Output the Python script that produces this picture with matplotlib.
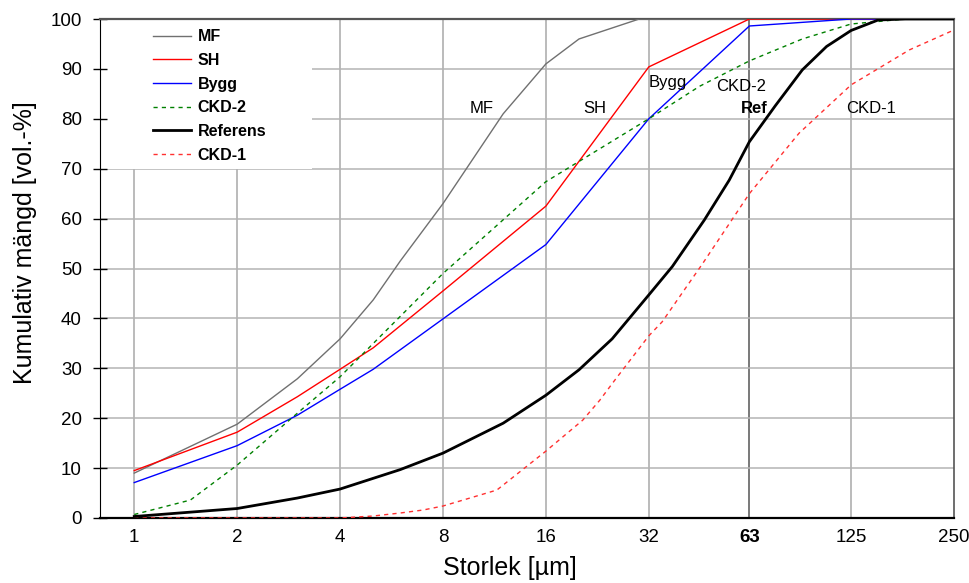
import numpy as np
import matplotlib
matplotlib.use('Agg')
import matplotlib.pyplot as plt
from matplotlib.patches import Rectangle

plt.rcParams['font.family'] = ['Liberation Sans', 'DejaVu Sans']

# Data
mf_x = [1, 2, 3, 4, 5, 6, 8, 12, 16, 20, 30, 250]
mf_y = [9.0, 18.8, 27.9, 35.9, 43.7, 51.5, 63.0, 81.0, 91.0, 96.0, 100, 100]

sh_x = [1, 2, 3, 4, 5, 8, 16, 32, 63, 250]
sh_y = [9.5, 17.2, 24.3, 29.8, 34.1, 45.5, 62.5, 90.4, 100, 100]

bygg_x = [1, 2, 3, 4, 5, 8, 16, 32, 63, 125, 250]
bygg_y = [7.1, 14.5, 20.6, 25.8, 29.8, 39.9, 54.8, 80.0, 98.6, 100, 100]

ckd2_x = [1, 1.46, 2, 3, 4, 8, 16, 32, 45, 63, 90, 125, 180, 250]
ckd2_y = [0.7, 3.6, 10.6, 21.0, 28.3, 49.0, 67.4, 80.0, 86.5, 91.6, 96.0, 99.0, 100, 100]

ref_x = [1, 2, 3, 4, 6, 8, 12, 16, 20, 25, 32, 37.5, 46.5, 55, 63, 75, 90, 106, 125, 150, 180, 250]
ref_y = [0.3, 1.9, 4.0, 5.8, 9.7, 13.0, 19.0, 24.6, 29.7, 35.9, 44.7, 50.4, 59.7, 67.7, 75.4,
         82.6, 89.8, 94.5, 97.7, 99.8, 100, 100]

ckd1_x = [1, 2, 4, 5, 6, 7, 8, 11.5, 16, 20.5, 23, 25.5, 32, 35, 46, 63, 88, 125, 185, 250]
ckd1_y = [0, 0, 0, 0.4, 1.0, 1.6, 2.4, 5.6, 13.4, 19.6, 23.6, 27.7, 36.5, 39.3, 51.0, 65.0,
          77.1, 86.8, 93.8, 97.8]

xticks = [1, 2, 4, 8, 16, 32, 63, 125, 250]
xticklabels = ['1', '2', '4', '8', '16', '32', '63', '125', '250']

labels = [('MF', 10.4, 82), ('SH', 22.3, 82), ('Bygg', 36.3, 87.2),
          ('CKD-2', 59.4, 86.4), ('Ref', 65.2, 82), ('CKD-1', 143, 82)]

fig = plt.figure(figsize=(9.7, 5.83), dpi=100)
ax = fig.add_axes([0.1031, 0.1115, 0.8804, 0.8559])

ax.set_xscale('log', base=2)
ax.set_xlim(0.794, 250)
ax.set_ylim(0, 100)

# grid
for v in xticks[:-1]:
    col = '#555555' if v == 63 else '#a8a8a8'
    ax.axvline(v, color=col, lw=1.1, zorder=0.5)
for h in range(10, 100, 10):
    ax.axhline(h, color='#b4b4b4', lw=1.1, zorder=0.5)

# white box behind the legend
ax.add_patch(Rectangle((0, 0.70), 0.248, 0.30, transform=ax.transAxes,
                       facecolor='white', edgecolor='none', zorder=1))

ax.plot(mf_x, mf_y, color='#707070', lw=1.0, label='MF', zorder=3)
ax.plot(sh_x, sh_y, color='#ff0000', lw=1.0, label='SH', zorder=3)
ax.plot(bygg_x, bygg_y, color='#0000ff', lw=1.0, label='Bygg', zorder=3)
ax.plot(ckd2_x, ckd2_y, color='#008000', lw=1.0, ls=(0, (3, 3)), label='CKD-2', zorder=3)
ax.plot(ref_x, ref_y, color='black', lw=2.0, label='Referens', zorder=4)
ax.plot(ckd1_x, ckd1_y, color='#ff3030', lw=1.0, ls=(0, (3, 3)), label='CKD-1', zorder=3)

for txt, x, y in labels:
    ax.text(x, y, txt, ha='center', va='center', fontsize=12,
            fontweight='bold' if txt == 'Ref' else 'normal', zorder=5)

leg = ax.legend(loc='upper left', bbox_to_anchor=(0.045, 1.008), frameon=False,
                prop={'weight': 'bold', 'size': 11.5}, handlelength=2.4,
                handletextpad=0.4, labelspacing=0.54)

ax.set_xticks(xticks)
ax.set_xticklabels(xticklabels)
ax.xaxis.set_minor_locator(matplotlib.ticker.NullLocator())
for t in ax.get_xticklabels():
    if t.get_text() == '63':
        t.set_fontweight('bold')
ax.tick_params(axis='x', length=0, pad=8, labelsize=13.5)
ax.set_yticks(range(0, 101, 10))
ax.tick_params(axis='y', direction='inout', length=10, width=1, pad=8, labelsize=13.5)

ax.spines['left'].set_color('black')
ax.spines['bottom'].set_color('black')
ax.spines['bottom'].set_linewidth(1.6)
ax.spines['top'].set_color('#555555')
ax.spines['top'].set_linewidth(1.6)
ax.spines['right'].set_color('#555555')
ax.spines['right'].set_linewidth(1.2)

ax.set_xlabel('Storlek [µm]', fontsize=18)
ax.set_ylabel('Kumulativ mängd [vol.-%]', fontsize=18)
ax.xaxis.set_label_coords(0.48, -0.076)
ax.yaxis.set_label_coords(-0.074, 0.551)

fig.savefig('out.png', dpi=100)
